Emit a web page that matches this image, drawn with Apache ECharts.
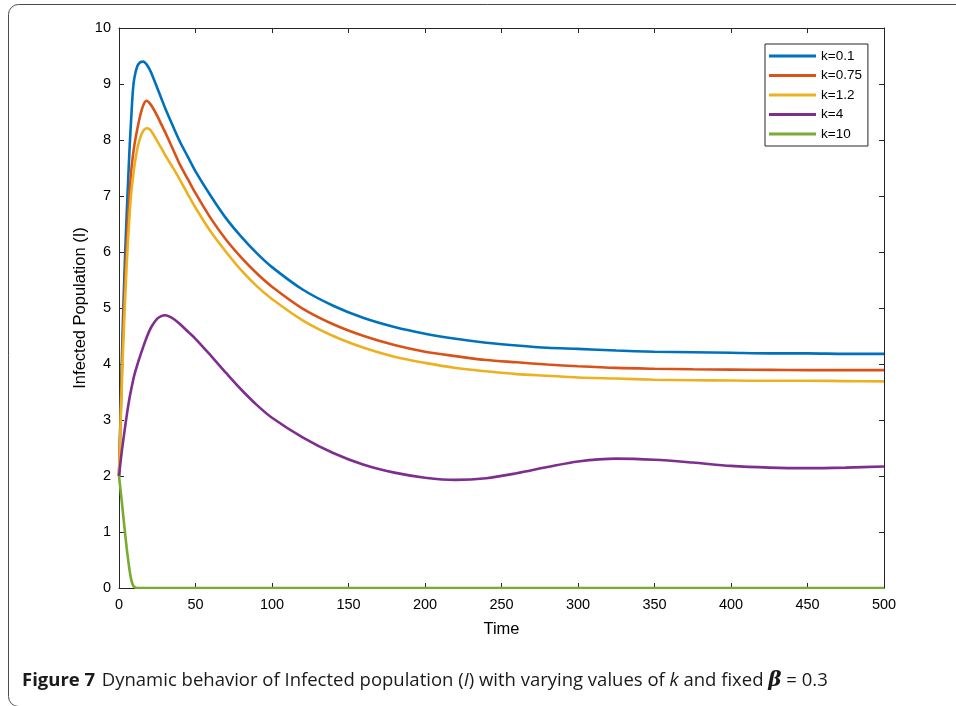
<!DOCTYPE html>
<html>
<head>
<meta charset="utf-8">
<title>Infected population</title>
<script src="https://cdn.jsdelivr.net/npm/echarts@6/dist/echarts.min.js"></script>
<style>
  html, body { margin: 0; padding: 0; background: #ffffff; }
  #chart { width: 956px; height: 706px; }
</style>
</head>
<body>
<div id="chart"></div>
<script>
// Time grid shared by every curve
const time = [0, 1, 2, 3, 4, 5, 6, 7, 8, 9, 10, 12, 14, 16, 18, 20, 22, 25, 28, 30, 32, 36, 40, 45, 50,
  60, 70, 80, 90, 100, 120, 140, 160, 180, 200, 220, 240, 260, 280, 300, 325, 350, 375, 400, 425, 450, 475, 500];

// Infected population I(t) for each value of k
const k01 = [2.0, 3.1, 4.2, 5.15, 5.95, 6.65, 7.3, 7.9, 8.4, 8.85, 9.1, 9.32, 9.39, 9.40, 9.35, 9.26, 9.14, 8.93, 8.72, 8.58, 8.45, 8.2, 7.96, 7.7, 7.44,
  7.0, 6.6, 6.27, 5.98, 5.73, 5.33, 5.04, 4.82, 4.66, 4.54, 4.45, 4.38, 4.33, 4.29, 4.27, 4.24, 4.22, 4.21, 4.2, 4.19, 4.19, 4.18, 4.18];
const k075 = [2.0, 3.0, 3.95, 4.8, 5.5, 6.1, 6.65, 7.1, 7.45, 7.7, 7.9, 8.2, 8.45, 8.63, 8.70, 8.66, 8.58, 8.43, 8.26, 8.15, 8.03, 7.79, 7.55, 7.3, 7.05,
  6.6, 6.22, 5.9, 5.62, 5.38, 4.99, 4.71, 4.5, 4.34, 4.22, 4.14, 4.07, 4.03, 3.99, 3.96, 3.93, 3.915, 3.905, 3.9, 3.895, 3.89, 3.89, 3.89];
const k12 = [2.0, 2.9, 3.75, 4.5, 5.15, 5.75, 6.25, 6.7, 7.05, 7.3, 7.52, 7.85, 8.05, 8.17, 8.21, 8.19, 8.12, 7.98, 7.84, 7.74, 7.65, 7.47, 7.28, 7.03, 6.79,
  6.36, 6.0, 5.67, 5.39, 5.16, 4.78, 4.5, 4.29, 4.13, 4.02, 3.93, 3.87, 3.82, 3.79, 3.76, 3.74, 3.72, 3.71, 3.705, 3.70, 3.70, 3.695, 3.69];
const k4 = [2.0, 2.25, 2.48, 2.68, 2.88, 3.07, 3.25, 3.41, 3.55, 3.68, 3.8, 3.99, 4.16, 4.32, 4.47, 4.6, 4.7, 4.81, 4.86, 4.87, 4.86, 4.8, 4.71, 4.58, 4.45,
  4.15, 3.84, 3.54, 3.27, 3.04, 2.69, 2.41, 2.2, 2.06, 1.97, 1.93, 1.96, 2.05, 2.16, 2.26, 2.31, 2.29, 2.24, 2.18, 2.15, 2.14, 2.15, 2.17];
const k10 = [2.0, 1.75, 1.5, 1.23, 0.97, 0.72, 0.5, 0.3, 0.15, 0.06, 0.02, 0, 0, 0, 0, 0, 0, 0, 0, 0, 0, 0, 0, 0, 0,
  0, 0, 0, 0, 0, 0, 0, 0, 0, 0, 0, 0, 0, 0, 0, 0, 0, 0, 0, 0, 0, 0, 0];

const seriesNames = ['k=0.1', 'k=0.75', 'k=1.2', 'k=4', 'k=10'];
const seriesValues = [k01, k075, k12, k4, k10];
const seriesColors = ['#0072BD', '#D95319', '#EDB120', '#7E2F8E', '#77AC30'];

const xTicks = { min: 0, max: 500, interval: 50 };
const yTicks = { min: 0, max: 10, interval: 1 };

const axisInk = '#262626';
const tickFont = 'Liberation Sans, Arial, Helvetica, sans-serif';
const captionFont = 'Open Sans, Noto Sans, sans-serif';

function pairs(values) {
  return time.map((t, i) => [t, values[i]]);
}

const chart = echarts.init(document.getElementById('chart'), null, { renderer: 'canvas' });

const frameAxis = {
  axisLine: { show: true, onZero: false, lineStyle: { color: axisInk, width: 1 } },
  axisTick: { show: true, inside: true, length: 5, lineStyle: { color: axisInk } },
  splitLine: { show: false }
};

chart.setOption({
  animation: false,
  backgroundColor: '#ffffff',
  grid: { left: 119, right: 72, top: 28, bottom: 118, containLabel: false },
  xAxis: [
    Object.assign({
      type: 'value', position: 'bottom',
      min: xTicks.min, max: xTicks.max, interval: xTicks.interval,
      name: 'Time', nameLocation: 'middle', nameGap: 33,
      nameTextStyle: { fontFamily: tickFont, fontSize: 16.5, color: '#000' },
      axisLabel: { margin: 9, fontFamily: tickFont, fontSize: 14.5, color: '#000' }
    }, frameAxis),
    Object.assign({
      type: 'value', position: 'top',
      min: xTicks.min, max: xTicks.max, interval: xTicks.interval,
      axisLabel: { show: false }
    }, frameAxis)
  ],
  yAxis: [
    Object.assign({
      type: 'value', position: 'left',
      min: yTicks.min, max: yTicks.max, interval: yTicks.interval,
      name: 'Infected Population (I)', nameLocation: 'middle', nameGap: 30,
      nameMoveOverlap: false,
      nameTextStyle: { fontFamily: tickFont, fontSize: 16.5, color: '#000' },
      axisLabel: { margin: 8, fontFamily: tickFont, fontSize: 14.5, color: '#000' }
    }, frameAxis),
    Object.assign({
      type: 'value', position: 'right',
      min: yTicks.min, max: yTicks.max, interval: yTicks.interval,
      axisLabel: { show: false }
    }, frameAxis)
  ],
  legend: {
    orient: 'vertical',
    left: 765, top: 44,
    padding: [4, 6, 4, 4],
    itemWidth: 47, itemHeight: 3, itemGap: 3.5,
    icon: 'rect',
    backgroundColor: '#ffffff',
    borderColor: axisInk, borderWidth: 1,
    textStyle: { fontFamily: tickFont, fontSize: 13.5, lineHeight: 16, color: '#000' },
    data: seriesNames
  },
  series: seriesNames.map((name, i) => ({
    name: name,
    type: 'line',
    data: pairs(seriesValues[i]),
    showSymbol: false,
    smooth: 0.3,
    lineStyle: { color: seriesColors[i], width: 2.6 },
    itemStyle: { color: seriesColors[i] },
    z: 2 + i
  })),
  graphic: [
    {
      type: 'rect',
      silent: true,
      shape: { x: 8.5, y: 4.5, width: 1100, height: 702, r: 10 },
      style: { fill: 'none', stroke: '#4a4a4a', lineWidth: 1 }
    },
    {
      type: 'text',
      left: 22, top: 671,
      style: {
        text: '{b|Figure 7}  {t|Dynamic behavior of Infected population (}{i|I}{t|) with varying values of }{i|k}{t| and fixed }{g|β}{t| = 0.3}',
        rich: {
          b: { fontFamily: captionFont, fontWeight: 'bold', fontSize: 18.5, fill: '#1a1a1a' },
          t: { fontFamily: captionFont, fontSize: 18.5, fill: '#1a1a1a' },
          i: { fontFamily: captionFont, fontStyle: 'italic', fontSize: 18.5, fill: '#1a1a1a' },
          g: { fontFamily: 'DejaVu Serif, serif', fontStyle: 'italic', fontWeight: 'bold', fontSize: 20, fill: '#1a1a1a' }
        }
      }
    }
  ]
});
</script>
</body>
</html>
